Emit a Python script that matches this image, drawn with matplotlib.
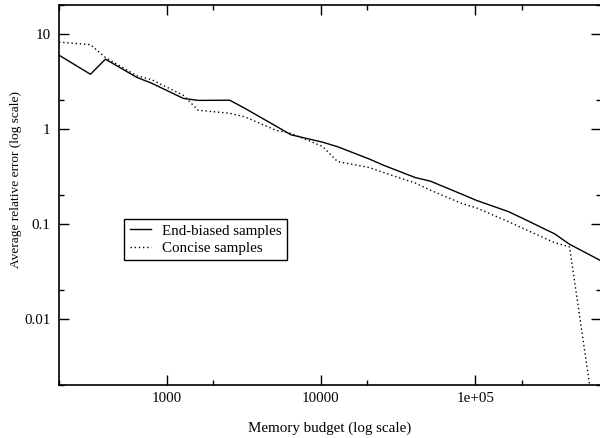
import matplotlib
matplotlib.use("Agg")
import matplotlib.pyplot as plt
from matplotlib.ticker import FixedLocator, FixedFormatter, NullFormatter

# --- data ---
budget = [200, 320, 400, 640, 800, 1280, 1600, 2560, 3200, 5120, 6400,
          10240, 12800, 20480, 25600, 40960, 51200, 81920, 102400,
          163840, 204800, 327680, 409600, 655360]
end_biased = [5.93, 3.73, 5.38, 3.46, 3.0, 2.08, 1.98, 1.99, 1.64, 1.06, 0.86,
              0.72, 0.645, 0.48, 0.41, 0.305, 0.28, 0.204, 0.175,
              0.134, 0.113, 0.078, 0.0606, 0.0406]
concise = [8.13, 7.65, 5.6, 3.6, 3.27, 2.24, 1.56, 1.45, 1.33, 0.96, 0.89,
           0.65, 0.45, 0.39, 0.344, 0.267, 0.225, 0.163, 0.146,
           0.105, 0.089, 0.063, 0.0568, 0.0003]

x_major = [1000, 10000, 100000]
x_major_labels = ["1000", "10000", "1e+05"]
x_minor = [200, 2000, 20000, 200000]
y_major = [0.01, 0.1, 1, 10]
y_major_labels = ["0.01", "0.1", "1", "10"]
y_minor = [0.002, 0.02, 0.2, 2, 20]

plt.rcParams["font.family"] = ["Liberation Serif", "DejaVu Serif"]
plt.rcParams["font.size"] = 10.8

fig = plt.figure(figsize=(6.0, 4.38), dpi=100)
ax = fig.add_axes([0.0983, 0.121, 0.9034, 0.8676])

ax.plot(budget, end_biased, color="black", lw=1.0, label="End-biased samples")
ax.plot(budget, concise, color="black", lw=1.0, linestyle=(0, (1, 2)),
        label="Concise samples")

ax.set_xscale("log")
ax.set_yscale("log")
ax.set_xlim(200, 655360)
ax.set_ylim(0.002, 20)

ax.xaxis.set_major_locator(FixedLocator(x_major))
ax.xaxis.set_major_formatter(FixedFormatter(x_major_labels))
ax.xaxis.set_minor_locator(FixedLocator(x_minor))
ax.xaxis.set_minor_formatter(NullFormatter())
ax.yaxis.set_major_locator(FixedLocator(y_major))
ax.yaxis.set_major_formatter(FixedFormatter(y_major_labels))
ax.yaxis.set_minor_locator(FixedLocator(y_minor))
ax.yaxis.set_minor_formatter(NullFormatter())

ax.tick_params(which="both", direction="in", top=True, right=True, width=1.0)
ax.tick_params(which="major", length=7, pad=6)
ax.tick_params(which="minor", length=3.5)
ax.tick_params(axis="x", which="major", pad=5)
for s in ax.spines.values():
    s.set_linewidth(1.2)

ax.set_xlabel("Memory budget (log scale)", labelpad=12)
ax.set_ylabel("Average relative error (log scale)", fontsize=9.6)
ax.yaxis.set_label_coords(-0.068, 0.541)

leg = ax.legend(loc="upper left", bbox_to_anchor=(0.1205, 0.437),
                borderaxespad=0, fancybox=False, edgecolor="black",
                framealpha=1, handlelength=1.45, handletextpad=0.7,
                borderpad=0.35, labelspacing=0.25)
leg.get_frame().set_linewidth(1.0)

fig.savefig("out.png", dpi=100)
